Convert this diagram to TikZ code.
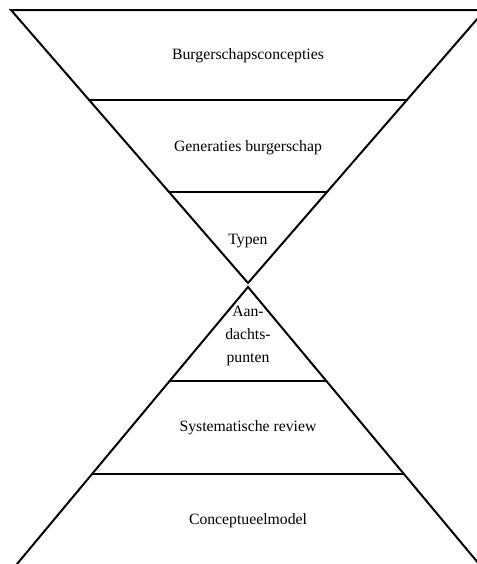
\documentclass[tikz,border=0pt]{standalone}
\usepackage{fontspec}
\setmainfont{Liberation Serif}
\usetikzlibrary{calc}
\begin{document}
\begin{tikzpicture}[x=0.75pt,y=-0.75pt,
  edge/.style={line width=1.5pt,line cap=round,line join=miter},
  label/.style={font=\fontsize{11.8}{17}\selectfont,align=center,inner sep=0pt}]
\useasboundingbox (0,0) rectangle (477,564);
\clip (0,0) rectangle (477,564);
% upper (inverted) funnel
\coordinate (tl) at (11,10);
\coordinate (tr) at (485,10);
\coordinate (ta) at (248,283);
% lower funnel
\coordinate (ba) at (248,287);
\coordinate (bl) at (17,564);
\coordinate (br) at (479,564);
% dividing points on the sides
\coordinate (t1l) at ($(tl)!0.3297!(ta)$);
\coordinate (t1r) at ($(tr)!0.3297!(ta)$);
\coordinate (t2l) at ($(tl)!0.6667!(ta)$);
\coordinate (t2r) at ($(tr)!0.6667!(ta)$);
\coordinate (b1l) at ($(ba)!0.339!(bl)$);
\coordinate (b1r) at ($(ba)!0.339!(br)$);
\coordinate (b2l) at ($(ba)!0.675!(bl)$);
\coordinate (b2r) at ($(ba)!0.675!(br)$);
\draw[edge] (tl) -- (tr) -- (ta) -- cycle;
\draw[edge] (t1l) -- (t1r);
\draw[edge] (t2l) -- (t2r);
\draw[edge] (bl) -- (ba) -- (br);
\draw[edge] (b1l) -- (b1r);
\draw[edge] (b2l) -- (b2r);
% labels
\node[label] (n1) at (248,56) {Burgerschapsconcepties};
\node[label] (n2) at (248,148) {Generaties burgerschap};
\node[label] (n3) at (248,241) {Typen};
\node[label] (n4) at (248,336) {Aan-\\dachts-\\punten};
\node[label] (n5) at (248,428) {Systematische review};
\node[label] (n6) at (248,521) {Conceptueelmodel};
\end{tikzpicture}
\end{document}
